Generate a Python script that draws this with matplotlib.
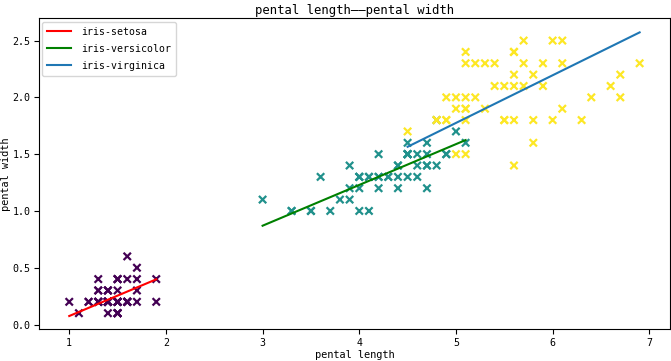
import matplotlib
matplotlib.use("Agg")
import matplotlib.pyplot as plt
import numpy as np


# iris petal length / width per species
setosa_len = [1.4, 1.4, 1.3, 1.5, 1.4, 1.7, 1.4, 1.5, 1.4, 1.5, 1.5, 1.6, 1.4, 1.1, 1.2, 1.5, 1.3,
              1.4, 1.7, 1.5, 1.7, 1.5, 1.0, 1.7, 1.9, 1.6, 1.6, 1.5, 1.4, 1.6, 1.6, 1.5, 1.5, 1.4,
              1.5, 1.2, 1.3, 1.5, 1.3, 1.5, 1.3, 1.3, 1.3, 1.6, 1.9, 1.4, 1.6, 1.4, 1.5, 1.4]
setosa_wid = [0.2, 0.2, 0.2, 0.2, 0.2, 0.4, 0.3, 0.2, 0.2, 0.1, 0.2, 0.2, 0.1, 0.1, 0.2, 0.4, 0.4,
              0.3, 0.3, 0.3, 0.2, 0.4, 0.2, 0.5, 0.2, 0.2, 0.4, 0.2, 0.2, 0.2, 0.2, 0.4, 0.1, 0.2,
              0.1, 0.2, 0.2, 0.1, 0.2, 0.2, 0.3, 0.3, 0.2, 0.6, 0.4, 0.3, 0.2, 0.2, 0.2, 0.2]
versicolor_len = [4.7, 4.5, 4.9, 4.0, 4.6, 4.5, 4.7, 3.3, 4.6, 3.9, 3.5, 4.2, 4.0, 4.7, 3.6, 4.4, 4.5,
                  4.1, 4.5, 3.9, 4.8, 4.0, 4.9, 4.7, 4.3, 4.4, 4.8, 5.0, 4.5, 3.5, 3.8, 3.7, 3.9, 5.1,
                  4.5, 4.5, 4.7, 4.4, 4.1, 4.0, 4.4, 4.6, 4.0, 3.3, 4.2, 4.2, 4.2, 4.3, 3.0, 4.1]
versicolor_wid = [1.4, 1.5, 1.5, 1.3, 1.5, 1.3, 1.6, 1.0, 1.3, 1.4, 1.0, 1.5, 1.0, 1.4, 1.3, 1.4, 1.5,
                  1.0, 1.5, 1.1, 1.8, 1.3, 1.5, 1.2, 1.3, 1.4, 1.4, 1.7, 1.5, 1.0, 1.1, 1.0, 1.2, 1.6,
                  1.5, 1.6, 1.5, 1.3, 1.3, 1.3, 1.2, 1.4, 1.2, 1.0, 1.3, 1.2, 1.3, 1.3, 1.1, 1.3]
virginica_len = [6.0, 5.1, 5.9, 5.6, 5.8, 6.6, 4.5, 6.3, 5.8, 6.1, 5.1, 5.3, 5.5, 5.0, 5.1, 5.3, 5.5,
                 6.7, 6.9, 5.0, 5.7, 4.9, 6.7, 4.9, 5.7, 6.0, 4.8, 4.9, 5.6, 5.8, 6.1, 6.4, 5.6, 5.1,
                 5.6, 6.1, 5.6, 5.5, 4.8, 5.4, 5.6, 5.1, 5.1, 5.9, 5.7, 5.2, 5.0, 5.2, 5.4, 5.1]
virginica_wid = [2.5, 1.9, 2.1, 1.8, 2.2, 2.1, 1.7, 1.8, 1.8, 2.5, 2.0, 1.9, 2.1, 2.0, 2.4, 2.3, 1.8,
                 2.2, 2.3, 1.5, 2.3, 2.0, 2.0, 1.8, 2.1, 1.8, 1.8, 1.8, 2.1, 1.6, 1.9, 2.0, 2.2, 1.5,
                 1.4, 2.3, 2.4, 1.8, 1.8, 2.1, 2.4, 2.3, 1.9, 2.3, 2.5, 2.3, 1.9, 2.0, 2.3, 1.8]

# fitted lines (endpoints)
setosa_line_x = [1.0, 1.9]
setosa_line_y = [0.075, 0.398]
versicolor_line_x = [3.0, 5.1]
versicolor_line_y = [0.87, 1.624]
virginica_line_x = [4.5, 6.9]
virginica_line_y = [1.565, 2.572]

names = ["iris-setosa", "iris-versicolor", "iris-virginica"]

FONT = "DejaVu Sans Mono"


def main() -> None:
    plt.rcParams["font.family"] = [FONT, "Noto Sans CJK SC"]

    x = np.array(setosa_len + versicolor_len + virginica_len)
    y = np.array(setosa_wid + versicolor_wid + virginica_wid)
    label = np.repeat([0, 1, 2], [len(setosa_len), len(versicolor_len), len(virginica_len)])

    fig = plt.figure(figsize=(6.71, 3.61), dpi=100)
    ax = fig.add_axes([0.0581, 0.0878, 0.9404, 0.8612])

    ax.scatter(x, y, c=label, cmap="viridis", marker="x", s=28, linewidths=1.6)

    ax.plot(setosa_line_x, setosa_line_y, color="red", linewidth=1.5, label=names[0])
    ax.plot(versicolor_line_x, versicolor_line_y, color="green", linewidth=1.5, label=names[1])
    ax.plot(virginica_line_x, virginica_line_y, color="#1f77b4", linewidth=1.5, label=names[2])

    ax.set_xlim(0.687, 7.214)
    ax.set_ylim(-0.042, 2.695)
    ax.set_yticks([0.0, 0.5, 1.0, 1.5, 2.0, 2.5])

    ax.tick_params(labelsize=7.2, length=3.5, pad=2.5)
    ax.set_title("pental length——pental width", fontsize=8.8, pad=3.5)
    ax.set_xlabel("pental length", fontsize=7.4, labelpad=1.5)
    ax.set_ylabel("pental width", fontsize=7.4, labelpad=1.5)

    ax.legend(loc="upper left", fontsize=7.1, handlelength=2.4, borderaxespad=0.35,
              labelspacing=0.7, handletextpad=1.0, borderpad=0.5)

    fig.savefig("out.png", dpi=100)


if __name__ == "__main__":
    main()
